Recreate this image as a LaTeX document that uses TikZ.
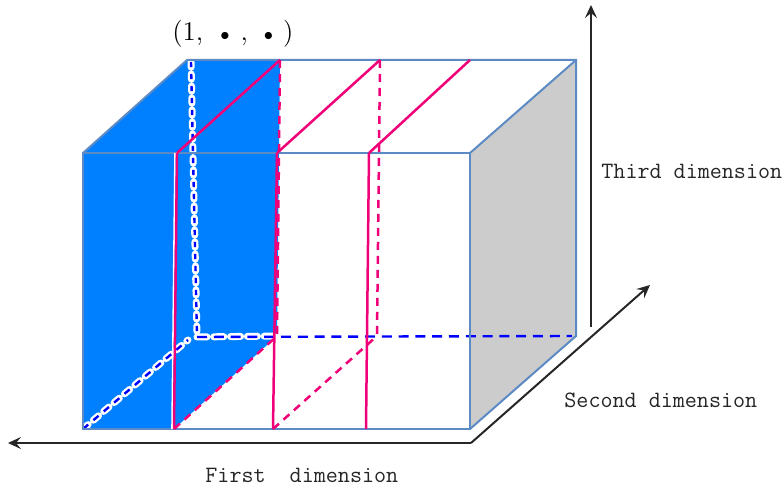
\documentclass[tikz,border=0pt]{standalone}
\usepackage{xcolor}
\usetikzlibrary{arrows.meta,positioning,calc}
\definecolor{sliceblue}{RGB}{0,128,255}
\definecolor{edgeblue}{RGB}{92,138,196}
\definecolor{slicepink}{RGB}{240,0,120}
\definecolor{sidegray}{RGB}{204,204,204}
\tikzset{
  lbl/.style    ={font=\fontsize{11.7}{14}\ttfamily,inner sep=0pt,text=black!85},
  edge/.style   ={draw=edgeblue,line width=1pt},
  axis/.style   ={-{Stealth[length=6.5pt,width=6pt,inset=2.5pt]},line width=1pt,black!85},
  cut/.style    ={slicepink,line width=1.25pt},
  cutback/.style={cut,dash pattern=on 4pt off 3pt},
  hidden/.style ={blue,line width=1.2pt},
  halo/.style   ={white,line width=3.5pt,line cap=round},
}
\newcommand{\smalldot}{{\fontsize{9}{10}\selectfont$\bullet$}}
\begin{document}
\begin{tikzpicture}[x=0.5pt,y=-0.5pt]
  \useasboundingbox (0,0) rectangle (784,492);
  % cube corners, front then back
  \coordinate (ftl) at (83,153);
  \coordinate (ftr) at (470,153);
  \coordinate (fbl) at (83,429);
  \coordinate (fbr) at (470,429);
  \coordinate (btl) at (187,60);
  \coordinate (btr) at (576,60);
  \coordinate (bbr) at (576,336);
  \coordinate (bbl) at (197,337);
  \coordinate (hid) at (191,62);
  \coordinate (hidend) at (572,336);
  \coordinate (diag) at (188,340);
  % cuts along the first dimension
  \coordinate (a1) at (177,153); \coordinate (a2) at (174,429);
  \coordinate (a3) at (280,60);  \coordinate (a4) at (277,336);
  \coordinate (b1) at (277,153); \coordinate (b2) at (273,429);
  \coordinate (b3) at (380,60);  \coordinate (b4) at (377,336);
  \coordinate (c1) at (369,153); \coordinate (c2) at (366,429);
  \coordinate (c3) at (470,60);
  % axes
  \coordinate (origin) at (471,443);
  \coordinate (end1) at (8,443);
  \coordinate (end2) at (650,285);
  \coordinate (start3) at (591,327);
  \coordinate (end3) at (591,5);

  \fill[sidegray] (ftr) -- (btr) -- (bbr) -- (fbr) -- cycle;
  \fill[sliceblue] (ftl) -- (btl) -- (a3) -- (a4) -- (a2) -- (fbl) -- cycle;

  % hidden edges, white underlay on the blue slice
  \draw[halo,dash pattern=on 2.6pt off 3.4pt] (hid) -- (bbl);
  \draw[halo,dash pattern=on 5pt off 3.4pt] (bbl) -- (a4);
  \draw[halo,dash pattern=on 3.4pt off 3.4pt] (fbl) -- (diag);
  \draw[hidden,dash pattern=on 2.6pt off 3.4pt] (hid) -- (bbl);
  \draw[hidden,dash pattern=on 5pt off 3.4pt] (bbl) -- (hidend);
  \draw[hidden,dash pattern=on 3.4pt off 3.4pt] (fbl) -- (diag);

  \draw[edge] (ftl) rectangle (fbr);
  \draw[edge] (ftl) -- (btl) -- (btr) -- (bbr) -- (fbr);
  \draw[edge] (ftr) -- (btr);

  \draw[white,line width=0.8pt] ([xshift=-1pt]a1) -- ([xshift=-1pt]a2);
  \draw[white,line width=0.8pt] ([shift={(-0.7pt,-0.7pt)}]a1) -- ([shift={(-0.7pt,-0.7pt)}]a3);
  \draw[cut] (a1) -- (a2);
  \draw[cut] (a1) -- (a3);
  \draw[cutback] (a3) -- (a4);
  \draw[cutback] (a2) -- (a4);
  \draw[cut] (b1) -- (b2);
  \draw[cut] (b1) -- (b3);
  \draw[cutback] (b3) -- (b4);
  \draw[cutback] (b2) -- (b4);
  \draw[cut] (c1) -- (c2);
  \draw[cut] (c1) -- (c3);

  \draw[axis] (origin) -- (end1);
  \draw[axis] (origin) -- (end2);
  \draw[axis] (start3) -- (end3);

  \node[font=\fontsize{13.5}{16}\selectfont,inner sep=0pt,anchor=west] (fixed) at (172,34)
       {(1,\hspace{8.5pt}\smalldot\hspace{5.5pt},\hspace{8pt}\smalldot\hspace{5pt})};
  \node[lbl,anchor=west] (third) at (601,171) {Third dimension};
  \node[lbl,anchor=west] (second) at (564,400) {Second dimension};
  \node[lbl,anchor=west] (first) at (205,475) {First\ \ dimension};
\end{tikzpicture}
\end{document}
